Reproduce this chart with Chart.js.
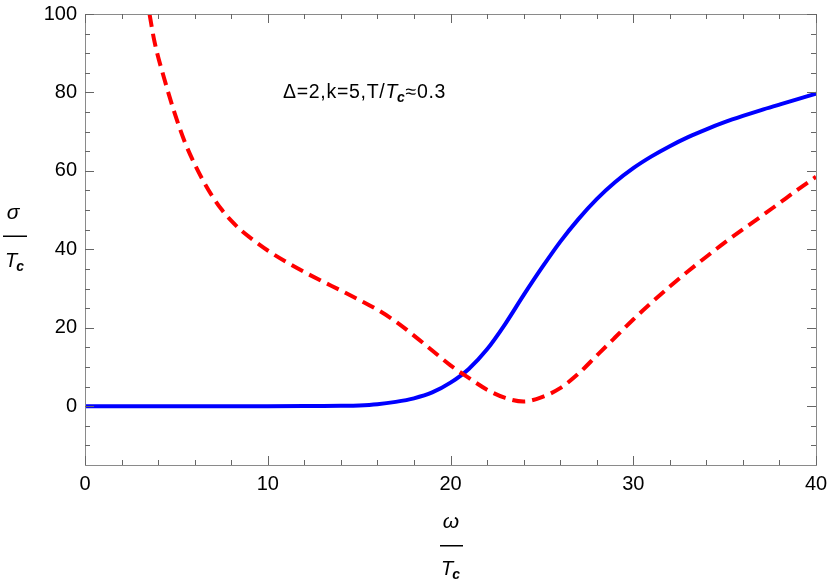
<!DOCTYPE html>
<html><head><meta charset="utf-8">
<script src="https://cdn.jsdelivr.net/npm/chart.js@4"></script>
<style>html,body{margin:0;padding:0;background:#fff}#wrap{width:830px;height:585px;position:relative}</style>
</head><body><div id="wrap"><canvas id="c" width="830" height="585"></canvas></div>
<script>
// ---- data ----
const omegaBlue = [0, 5, 10, 12, 13, 14, 15, 16, 17, 18, 19, 20, 21, 22, 23, 24, 25, 26, 27, 28, 29, 30, 31, 32, 33, 34, 35, 36, 37, 38, 39, 40];
const sigmaBlue = [0, 0, 0, 0.02, 0.05, 0.1, 0.2, 0.5, 1.1, 2.0, 3.5, 6.0, 9.5, 14.5, 21, 28.3, 35.3, 41.9, 47.7, 52.8, 57.1, 60.7, 63.7, 66.3, 68.6, 70.6, 72.4, 74.0, 75.5, 76.9, 78.3, 79.7];
const omegaRed = [3.53, 3.8, 4.35, 4.9, 5.45, 6, 6.5, 7, 7.5, 8, 8.5, 9, 10, 11, 12, 13, 14, 15, 16, 17, 18, 19, 20, 21, 22, 23, 24, 25, 26, 27, 28, 29, 30, 31, 32, 33, 34, 35, 36, 37, 38, 39, 40];
const sigmaRed = [100, 93, 83.3, 74.8, 67.5, 61.7, 57.2, 53.3, 50.0, 47.3, 45.0, 43.1, 39.7, 36.8, 34.2, 31.8, 29.5, 27.1, 24.6, 21.6, 18, 14.2, 10.4, 7.2, 4.2, 2.1, 1.2, 2.3, 4.6, 8.3, 12.9, 17.5, 22.1, 26.4, 30.5, 34.4, 38.1, 41.7, 45.1, 48.4, 51.8, 55.2, 58.5];
const xTicks = [0, 10, 20, 30, 40];
const yTicks = [0, 20, 40, 60, 80, 100];
const xMinorStep = 2;
const yMinorStep = 5;
const xRange = [0, 40];
const yRange = [-15, 100];

const FONT = "'Liberation Sans', Arial, sans-serif";

const framePlugin = {
  id: 'frame',
  afterDraw(chart) {
    const ctx = chart.ctx;
    const a = chart.chartArea;
    const xs = chart.scales.x, ys = chart.scales.y;
    ctx.save();
    // frame
    ctx.strokeStyle = '#8a8a8a';
    ctx.lineWidth = 1;
    ctx.strokeRect(Math.round(a.left) + 0.5, Math.round(a.top) + 0.5, Math.round(a.right - a.left), Math.round(a.bottom - a.top));
    // ticks
    ctx.strokeStyle = '#666';
    ctx.beginPath();
    for (let v = xRange[0]; v <= xRange[1] + 1e-9; v += xMinorStep) {
      const major = xTicks.includes(v);
      const L = major ? 9 : 5;
      const px = Math.round(xs.getPixelForValue(v)) + 0.5;
      ctx.moveTo(px, a.bottom); ctx.lineTo(px, a.bottom - L);
      ctx.moveTo(px, a.top); ctx.lineTo(px, a.top + L);
    }
    for (let v = -10; v <= yRange[1] + 1e-9; v += yMinorStep) {
      const major = yTicks.includes(v);
      const L = major ? 9 : 5;
      const py = Math.round(ys.getPixelForValue(v)) + 0.5;
      ctx.moveTo(a.left, py); ctx.lineTo(a.left + L, py);
      ctx.moveTo(a.right, py); ctx.lineTo(a.right - L, py);
    }
    ctx.stroke();

    ctx.fillStyle = '#000';
    ctx.textBaseline = 'alphabetic';
    // y-axis title (fraction sigma / T_c)
    ctx.textAlign = 'center';
    ctx.font = 'italic 21px ' + FONT;
    ctx.fillText('σ', 13, 219);
    ctx.fillRect(3, 235.5, 24, 1.5);
    ctx.textAlign = 'left';
    ctx.font = 'italic 20px ' + FONT;
    ctx.fillText('T', 5, 267);
    let w = ctx.measureText('T').width;
    ctx.font = 'italic bold 14px ' + FONT;
    ctx.fillText('c', 5 + w - 1, 271);

    // x-axis title (fraction omega / T_c)
    ctx.textAlign = 'center';
    ctx.font = 'italic 21px ' + FONT;
    ctx.fillText('ω', 451, 528);
    ctx.fillRect(440, 545, 23, 1.5);
    ctx.textAlign = 'left';
    ctx.font = 'italic 20px ' + FONT;
    ctx.fillText('T', 441, 575);
    w = ctx.measureText('T').width;
    ctx.font = 'italic bold 14px ' + FONT;
    ctx.fillText('c', 441 + w - 1, 579);

    // annotation
    let x = 283;
    const base = 98;
    ctx.letterSpacing = '0.7px';
    const runs = [
      {t: 'Δ=2,k=5,T/', f: '19.5px ' + FONT, dy: 0},
      {t: 'T', f: 'italic 19.5px ' + FONT, dy: 0},
      {t: 'c', f: 'italic bold 14px ' + FONT, dy: 4, dx: -1},
      {t: '≈0.3', f: '19.5px ' + FONT, dy: 0}
    ];
    for (const r of runs) {
      ctx.font = r.f;
      x += (r.dx || 0);
      ctx.fillText(r.t, x, base + r.dy);
      x += ctx.measureText(r.t).width;
    }
    ctx.restore();
  }
};

const toPts = (xs, ys) => xs.map((v, i) => ({x: v, y: ys[i]}));

new Chart(document.getElementById('c'), {
  type: 'line',
  data: {
    datasets: [
      {
        label: 'blue',
        data: toPts(omegaBlue, sigmaBlue),
        borderColor: '#0000ff',
        borderWidth: 4,
        pointRadius: 0,
        cubicInterpolationMode: 'monotone',
        fill: false,
        order: 1
      },
      {
        label: 'red',
        data: toPts(omegaRed, sigmaRed),
        borderColor: '#ff0000',
        borderWidth: 4,
        borderDash: [13, 7],
        pointRadius: 0,
        cubicInterpolationMode: 'monotone',
        fill: false,
        order: 0
      }
    ]
  },
  options: {
    responsive: false,
    animation: false,
    layout: {padding: {top: 14, right: 14, left: 0, bottom: 0}},
    plugins: {legend: {display: false}, tooltip: {enabled: false}},
    scales: {
      x: {
        type: 'linear', min: xRange[0], max: xRange[1],
        afterBuildTicks(s) { s.ticks = xTicks.map(v => ({value: v})); },
        afterFit(s) { s.height = 120; s.paddingLeft = 0; s.paddingRight = 0; },
        ticks: {font: {family: FONT, size: 20}, color: '#000', padding: 7, maxRotation: 0, autoSkip: false},
        grid: {display: false, drawTicks: false},
        border: {display: false}
      },
      y: {
        type: 'linear', min: yRange[0], max: yRange[1],
        afterBuildTicks(s) { s.ticks = yTicks.map(v => ({value: v})); },
        afterFit(s) { s.width = 85; s.paddingTop = 0; s.paddingBottom = 0; },
        ticks: {font: {family: FONT, size: 20}, color: '#000', padding: 8, autoSkip: false},
        grid: {display: false, drawTicks: false},
        border: {display: false}
      }
    }
  },
  plugins: [framePlugin]
});
</script>
</body></html>
